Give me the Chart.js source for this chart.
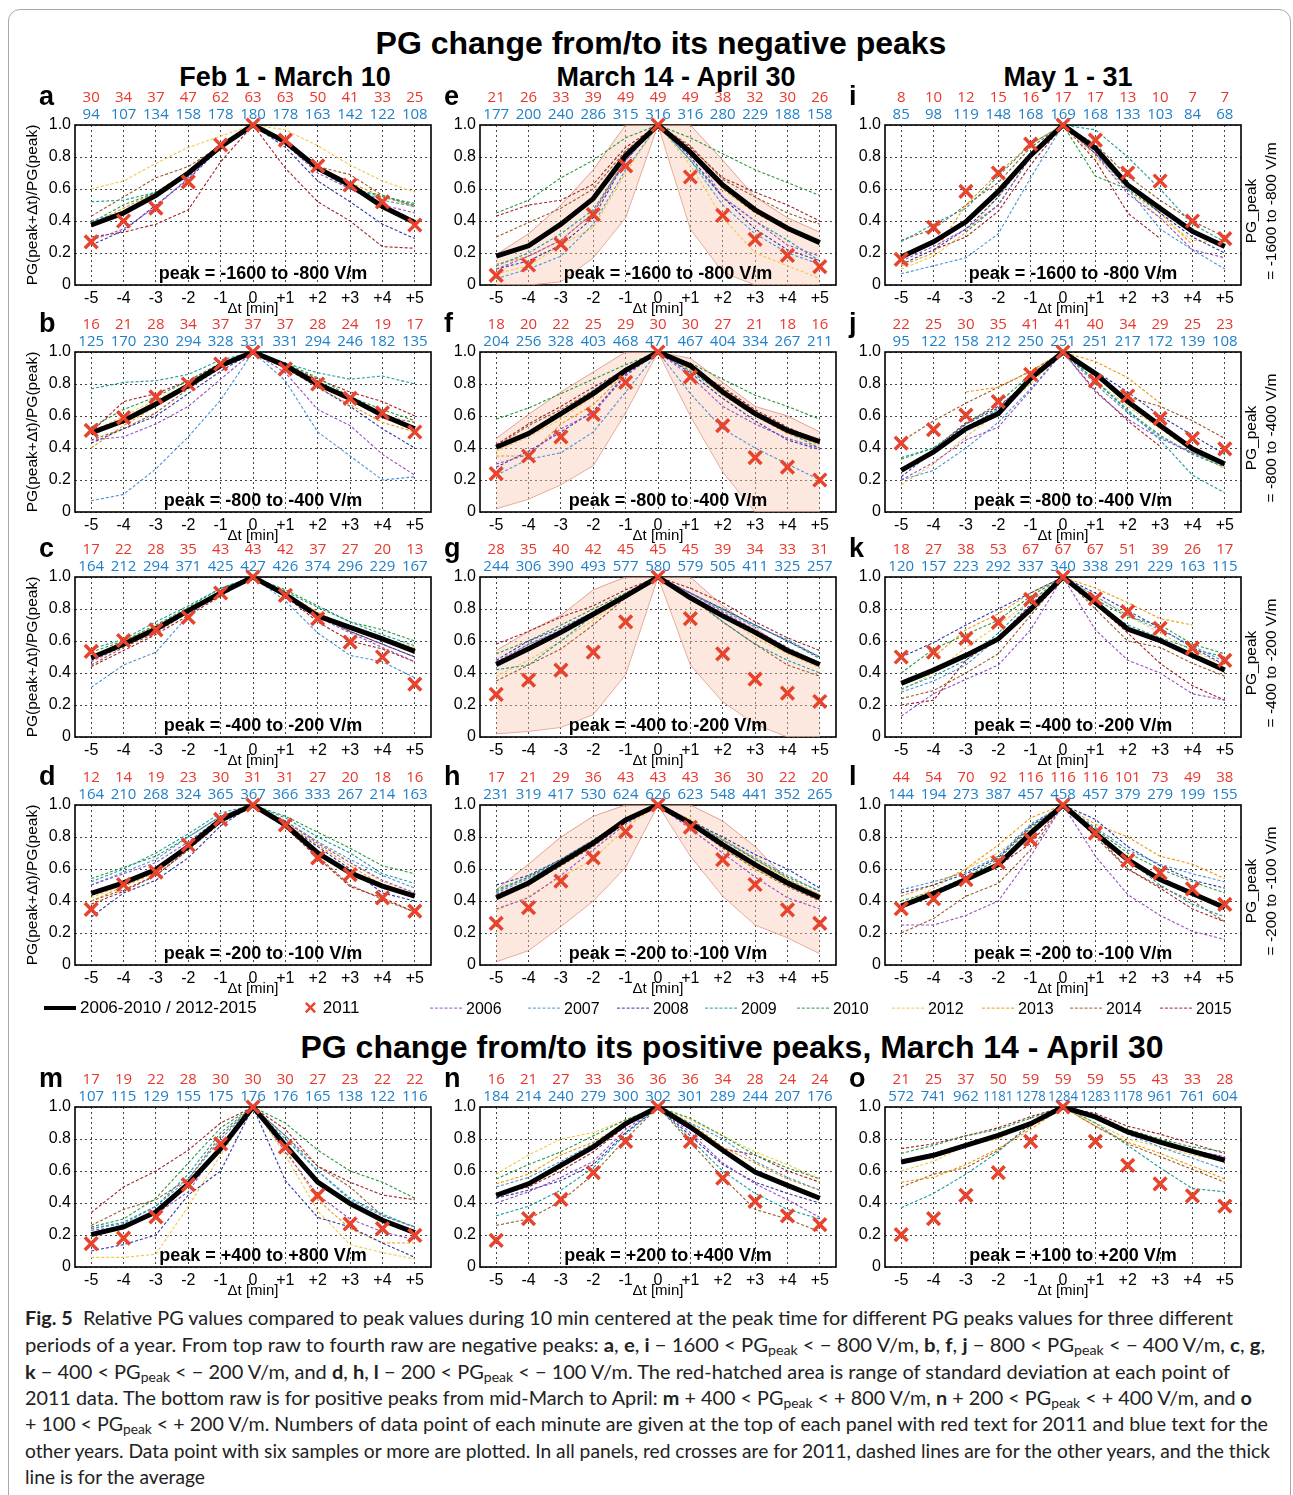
<!DOCTYPE html>
<html>
<head>
<meta charset="utf-8">
<script src="https://cdn.jsdelivr.net/npm/chart.js@4.4.1/dist/chart.umd.min.js"></script>
<style>
body { margin:0; background:#fff; width:1293px; height:1495px; position:relative; overflow:hidden; font-family:"Liberation Sans", Arial, sans-serif; }
.frame { position:absolute; left:8px; top:9px; width:1281px; height:1530px; border:1.5px solid #a8a8a8; border-radius:12px; }
.t { position:absolute; transform:translate(-50%,-50%); white-space:nowrap; font-weight:bold; color:#000; }
canvas { position:absolute; }
.leg { position:absolute; white-space:nowrap; color:#000; transform:translateY(-50%); }
.cap { position:absolute; left:25px; white-space:nowrap; font-family:Lato, "Open Sans", sans-serif; font-size:18.5px; line-height:24px; color:#222; transform-origin:0 50%; }
.cap sub { font-size:70%; vertical-align:-0.25em; line-height:0; }
</style>
</head>
<body>
<div class="frame"></div>
<div class="t" style="left:661px;top:43px;font-size:32px">PG change from/to its negative peaks</div>
<div class="t" style="left:285px;top:77px;font-size:27px">Feb 1 - March 10</div>
<div class="t" style="left:676px;top:77px;font-size:27px">March 14 - April 30</div>
<div class="t" style="left:1068px;top:77px;font-size:27px">May 1 - 31</div>
<div class="t" style="left:732px;top:1047px;font-size:32px">PG change from/to its positive peaks, March 14 - April 30</div>

<div class="cap" style="top:1306px" data-w="1208"><b>Fig. 5</b>&nbsp; Relative PG values compared to peak values during 10 min centered at the peak time for different PG peaks values for three different</div>
<div class="cap" style="top:1333px" data-w="1240">periods of a year. From top raw to fourth raw are negative peaks: <b>a</b>, <b>e</b>, <b>i</b> − 1600 &lt; PG<sub>peak</sub> &lt; − 800 V/m, <b>b</b>, <b>f</b>, <b>j</b> − 800 &lt; PG<sub>peak</sub> &lt; − 400 V/m, <b>c</b>, <b>g</b>,</div>
<div class="cap" style="top:1360px" data-w="1205"><b>k</b> − 400 &lt; PG<sub>peak</sub> &lt; − 200 V/m, and <b>d</b>, <b>h</b>, <b>l</b> − 200 &lt; PG<sub>peak</sub> &lt; − 100 V/m. The red-hatched area is range of standard deviation at each point of</div>
<div class="cap" style="top:1386px" data-w="1227">2011 data. The bottom raw is for positive peaks from mid-March to April: <b>m</b> + 400 &lt; PG<sub>peak</sub> &lt; + 800 V/m, <b>n</b> + 200 &lt; PG<sub>peak</sub> &lt; + 400 V/m, and <b>o</b></div>
<div class="cap" style="top:1412px" data-w="1243">+ 100 &lt; PG<sub>peak</sub> &lt; + 200 V/m. Numbers of data point of each minute are given at the top of each panel with red text for 2011 and blue text for the</div>
<div class="cap" style="top:1439px" data-w="1245">other years. Data point with six samples or more are plotted. In all panels, red crosses are for 2011, dashed lines are for the other years, and the thick</div>
<div class="cap" style="top:1465px" data-w="180">line is for the average</div>

<script>
// x categories and axis ticks
const xLabels = ['-5', '-4', '-3', '-2', '-1', '0', '+1', '+2', '+3', '+4', '+5'];
const yTicks = [0, 0.2, 0.4, 0.6, 0.8, 1.0];
const yTickLabels = ['0', '0.2', '0.4', '0.6', '0.8', '1.0'];
const years = ['2006', '2007', '2008', '2009', '2010', '2012', '2013', '2014', '2015'];
const yearColors = ['#9b4fc9', '#4b95d6', '#3338a8', '#1c9c9c', '#2a9a3a', '#f2c84b', '#f09a0a', '#9c5a2a', '#a3222a'];

const peakNeg = ['peak = -1600 to -800 V/m', 'peak = -800 to -400 V/m', 'peak = -400 to -200 V/m', 'peak = -200 to -100 V/m'];
const peakPos = ['peak = +400 to +800 V/m', 'peak = +200 to +400 V/m', 'peak = +100 to +200 V/m'];
const rangeLabels = ['= -1600 to -800 V/m', '= -800 to -400 V/m', '= -400 to -200 V/m', '= -200 to -100 V/m'];

// ---- a ----
const a_red = [30, 34, 37, 47, 62, 63, 63, 50, 41, 33, 25];
const a_blue = [94, 107, 134, 158, 178, 180, 178, 163, 142, 122, 108];
const a_avg = [0.375, 0.45, 0.56, 0.70, 0.865, 1, 0.895, 0.73, 0.625, 0.49, 0.39];
const a_2011 = [0.27, 0.40, 0.48, 0.645, 0.875, 1, 0.905, 0.745, 0.625, 0.52, 0.375];
const a_years = [
  [0.28, 0.35, 0.49, 0.67, 0.86, 1, 0.88, 0.70, 0.60, 0.50, 0.45],
  [0.40, 0.46, 0.56, 0.68, 0.87, 1, 0.90, 0.73, 0.61, 0.53, 0.49],
  [0.25, 0.34, 0.50, 0.66, 0.86, 1, 0.86, 0.65, 0.52, 0.38, 0.29],
  [0.52, 0.53, 0.58, 0.68, 0.88, 1, 0.90, 0.73, 0.60, 0.55, 0.51],
  [0.39, 0.50, 0.58, 0.70, 0.88, 1, 0.90, 0.72, 0.60, 0.56, 0.50],
  [0.60, 0.65, 0.76, 0.86, 0.93, 1, 0.97, 0.87, 0.75, 0.65, 0.58],
  [0.38, 0.48, 0.58, 0.71, 0.88, 1, 0.90, 0.74, 0.64, 0.55, 0.49],
  [0.43, 0.55, 0.67, 0.74, 0.87, 1, 0.90, 0.74, 0.69, 0.56, 0.49],
  [0.30, 0.33, 0.38, 0.47, 0.77, 1, 0.73, 0.52, 0.40, 0.24, 0.23]
];

// ---- e ----
const e_red = [21, 26, 33, 39, 49, 49, 49, 38, 32, 30, 26];
const e_blue = [177, 200, 240, 286, 315, 316, 316, 280, 229, 188, 158];
const e_avg = [0.18, 0.245, 0.38, 0.54, 0.81, 1, 0.83, 0.625, 0.47, 0.355, 0.265];
const e_2011 = [0.06, 0.125, 0.255, 0.44, 0.745, 1, 0.675, 0.435, 0.285, 0.185, 0.115];
const e_sdHigh = [0.19, 0.32, 0.50, 0.72, 1.0, 1.0, 1.0, 0.78, 0.55, 0.42, 0.33];
const e_sdLow = [0.0, 0.0, 0.02, 0.17, 0.42, 1.0, 0.35, 0.08, 0.0, 0.0, 0.0];
const e_years = [
  [0.10, 0.18, 0.28, 0.45, 0.78, 1, 0.85, 0.55, 0.40, 0.25, 0.18],
  [0.04, 0.10, 0.18, 0.38, 0.72, 1, 0.78, 0.50, 0.32, 0.20, 0.13],
  [0.10, 0.15, 0.25, 0.42, 0.78, 1, 0.80, 0.55, 0.35, 0.22, 0.15],
  [0.12, 0.20, 0.32, 0.47, 0.78, 1, 0.78, 0.55, 0.40, 0.28, 0.15],
  [0.45, 0.53, 0.67, 0.78, 0.92, 1, 0.92, 0.82, 0.72, 0.64, 0.56],
  [0.07, 0.12, 0.25, 0.36, 0.70, 1, 0.75, 0.42, 0.20, 0.12, 0.04],
  [0.13, 0.18, 0.28, 0.45, 0.80, 1, 0.85, 0.60, 0.45, 0.35, 0.27],
  [0.30, 0.39, 0.48, 0.60, 0.84, 1, 0.87, 0.66, 0.55, 0.45, 0.38],
  [0.43, 0.50, 0.53, 0.63, 0.86, 1, 0.86, 0.67, 0.58, 0.50, 0.40]
];

// ---- i ----
const i_red = [8, 10, 12, 15, 16, 17, 17, 13, 10, 7, 7];
const i_blue = [85, 98, 119, 148, 168, 169, 168, 133, 103, 84, 68];
const i_avg = [0.175, 0.27, 0.395, 0.585, 0.81, 1, 0.855, 0.625, 0.48, 0.335, 0.24];
const i_2011 = [0.16, 0.36, 0.585, 0.70, 0.88, 1, 0.905, 0.70, 0.65, 0.40, 0.29];
const i_years = [
  [0.15, 0.24, 0.35, 0.50, 0.80, 1, 0.82, 0.57, 0.42, 0.22, 0.17],
  [0.07, 0.12, 0.17, 0.32, 0.67, 1, 0.83, 0.60, 0.35, 0.22, 0.10],
  [0.13, 0.22, 0.35, 0.55, 0.82, 1, 0.82, 0.62, 0.45, 0.30, 0.20],
  [0.27, 0.38, 0.48, 0.68, 0.88, 1, 0.97, 0.80, 0.60, 0.38, 0.27],
  [null, null, 0.33, 0.50, 0.80, 1, 0.68, 0.60, 0.45, null, null],
  [0.10, 0.18, 0.33, 0.55, 0.80, 1, 0.80, 0.60, 0.42, 0.28, 0.26],
  [0.12, 0.20, 0.50, 0.70, 0.88, 1, 0.82, 0.62, 0.45, 0.25, null],
  [0.28, 0.35, 0.50, 0.64, 0.86, 1, 0.88, 0.68, 0.53, 0.40, 0.30],
  [null, 0.22, 0.30, 0.46, 0.75, 1, 0.78, 0.45, 0.29, null, null]
];

// ---- b ----
const b_red = [16, 21, 28, 34, 37, 37, 37, 28, 24, 19, 17];
const b_blue = [125, 170, 230, 294, 328, 331, 331, 294, 246, 182, 135];
const b_avg = [0.495, 0.57, 0.675, 0.79, 0.915, 1, 0.915, 0.80, 0.71, 0.605, 0.52];
const b_2011 = [0.51, 0.59, 0.72, 0.80, 0.925, 1, 0.895, 0.80, 0.71, 0.62, 0.50];
const b_years = [
  [0.45, 0.47, 0.55, 0.66, 0.83, 1, 0.87, 0.64, 0.54, 0.36, 0.23],
  [0.07, 0.11, 0.27, 0.47, 0.70, 1, 0.82, 0.50, 0.35, 0.20, 0.22],
  [0.43, 0.52, 0.60, 0.74, 0.88, 1, 0.90, 0.78, 0.66, 0.52, 0.40],
  [0.77, 0.81, 0.82, 0.86, 0.95, 1, 0.93, 0.87, 0.83, 0.85, 0.80],
  [0.53, 0.64, 0.72, 0.82, 0.93, 1, 0.93, 0.84, 0.72, 0.64, 0.57],
  [0.50, 0.60, 0.70, 0.80, 0.92, 1, 0.92, 0.80, 0.70, 0.60, 0.52],
  [0.40, 0.54, 0.66, 0.78, 0.90, 1, 0.90, 0.78, 0.67, 0.56, 0.50],
  [0.45, 0.52, 0.62, 0.77, 0.90, 1, 0.91, 0.82, 0.70, 0.60, 0.56],
  [0.50, 0.69, 0.74, 0.82, 0.93, 1, 0.92, 0.83, 0.75, 0.69, 0.60]
];

// ---- f ----
const f_red = [18, 20, 22, 25, 29, 30, 30, 27, 21, 18, 16];
const f_blue = [204, 256, 328, 403, 468, 471, 467, 404, 334, 267, 211];
const f_avg = [0.405, 0.49, 0.615, 0.74, 0.885, 1, 0.915, 0.75, 0.615, 0.51, 0.44];
const f_2011 = [0.24, 0.35, 0.47, 0.61, 0.81, 1, 0.845, 0.54, 0.34, 0.28, 0.20];
const f_sdHigh = [0.46, 0.61, 0.75, 0.875, 1.0, 1.0, 0.96, 0.81, 0.66, 0.60, 0.50];
const f_sdLow = [0.02, 0.08, 0.17, 0.29, 0.62, 1.0, 0.60, 0.25, 0.0, 0.0, 0.0];
const f_years = [
  [0.30, 0.36, 0.52, 0.62, 0.85, 1, 0.85, 0.66, 0.55, 0.46, 0.40],
  [0.23, 0.33, 0.37, 0.50, 0.75, 1, 0.74, 0.52, 0.40, 0.30, 0.20],
  [0.28, 0.38, 0.50, 0.63, 0.86, 1, 0.87, 0.71, 0.57, 0.45, 0.39],
  [0.40, 0.50, 0.62, 0.76, 0.90, 1, 0.88, 0.74, 0.60, 0.50, 0.40],
  [0.58, 0.65, 0.74, 0.83, 0.92, 1, 0.93, 0.83, 0.73, 0.66, 0.58],
  [0.38, 0.47, 0.58, 0.72, 0.88, 1, 0.90, 0.75, 0.61, 0.50, 0.42],
  [0.35, 0.35, 0.55, 0.67, 0.87, 1, 0.89, 0.73, 0.60, 0.49, 0.42],
  [0.41, 0.54, 0.64, 0.76, 0.88, 1, 0.90, 0.77, 0.63, 0.52, 0.43],
  [0.42, 0.55, 0.66, 0.78, 0.89, 1, 0.90, 0.78, 0.64, 0.53, 0.44]
];

// ---- j ----
const j_red = [22, 25, 30, 35, 41, 41, 40, 34, 29, 25, 23];
const j_blue = [95, 122, 158, 212, 250, 251, 251, 217, 172, 139, 108];
const j_avg = [0.26, 0.375, 0.52, 0.615, 0.835, 1, 0.865, 0.69, 0.54, 0.395, 0.30];
const j_2011 = [0.43, 0.515, 0.605, 0.69, 0.86, 1, 0.82, 0.725, 0.585, 0.46, 0.395];
const j_years = [
  [0.20, 0.31, 0.45, 0.53, 0.76, 1, 0.75, 0.58, 0.46, 0.37, 0.30],
  [0.20, 0.26, 0.40, 0.56, 0.77, 1, 0.80, 0.62, 0.47, 0.37, 0.28],
  [0.22, 0.38, 0.55, 0.65, 0.84, 1, 0.88, 0.75, 0.60, 0.48, 0.36],
  [0.34, 0.40, 0.53, 0.64, 0.84, 1, 0.82, 0.64, 0.45, 0.23, 0.12],
  [0.33, 0.40, 0.55, 0.68, 0.86, 1, 0.82, 0.63, 0.48, 0.36, 0.28],
  [0.17, 0.30, 0.47, 0.62, 0.80, 1, 0.82, 0.66, 0.52, 0.38, 0.27],
  [null, null, 0.75, 0.78, 0.88, 1, 0.94, 0.84, 0.68, null, null],
  [0.44, 0.57, 0.68, 0.78, 0.88, 1, 0.85, 0.72, 0.66, 0.57, 0.46],
  [null, 0.39, 0.56, 0.66, 0.82, 1, 0.76, 0.57, 0.41, null, null]
];

// ---- c ----
const c_red = [17, 22, 28, 35, 43, 43, 42, 37, 27, 20, 13];
const c_blue = [164, 212, 294, 371, 425, 427, 426, 374, 296, 229, 167];
const c_avg = [0.495, 0.58, 0.675, 0.79, 0.90, 1, 0.89, 0.757, 0.685, 0.613, 0.535];
const c_2011 = [0.535, 0.603, 0.67, 0.747, 0.90, 1, 0.885, 0.74, 0.593, 0.50, 0.33];
const c_years = [
  [0.47, 0.57, 0.66, 0.78, 0.90, 1, 0.88, 0.75, 0.65, 0.56, 0.47],
  [0.31, 0.45, 0.53, 0.76, 0.92, 1, 0.85, 0.65, 0.51, 0.47, 0.37],
  [0.48, 0.58, 0.67, 0.79, 0.90, 1, 0.89, 0.76, 0.66, 0.58, 0.50],
  [0.55, 0.61, 0.72, 0.82, 0.93, 1, 0.91, 0.81, 0.72, 0.64, 0.57],
  [0.53, 0.60, 0.70, 0.81, 0.93, 1, 0.92, 0.82, 0.72, 0.67, 0.60],
  [0.50, 0.60, 0.69, 0.80, 0.91, 1, 0.90, 0.78, 0.68, 0.62, 0.56],
  [0.49, 0.59, 0.68, 0.80, 0.91, 1, 0.90, 0.78, 0.68, 0.62, 0.55],
  [0.45, 0.56, 0.65, 0.78, 0.90, 1, 0.88, 0.76, 0.66, 0.58, 0.50],
  [0.44, 0.54, 0.64, 0.76, 0.88, 1, 0.88, 0.72, 0.60, 0.55, 0.47]
];

// ---- g ----
const g_red = [28, 35, 40, 42, 45, 45, 45, 39, 34, 33, 31];
const g_blue = [244, 306, 390, 493, 577, 580, 579, 505, 411, 325, 257];
const g_avg = [0.453, 0.551, 0.654, 0.767, 0.88, 1, 0.87, 0.757, 0.654, 0.541, 0.453];
const g_2011 = [0.267, 0.356, 0.418, 0.531, 0.72, 1, 0.74, 0.52, 0.362, 0.274, 0.222];
const g_sdHigh = [0.54, 0.66, 0.76, 0.92, 1.0, 1.0, 1.0, 0.82, 0.68, 0.55, 0.44];
const g_sdLow = [0.02, 0.035, 0.06, 0.14, 0.39, 1.0, 0.45, 0.22, 0.08, 0.0, 0.0];
const g_years = [
  [0.47, 0.58, 0.66, 0.77, 0.88, 1, 0.90, 0.78, 0.67, 0.56, 0.46],
  [0.45, 0.58, 0.67, 0.78, 0.89, 1, 0.90, 0.79, 0.69, 0.61, 0.50],
  [0.48, 0.60, 0.68, 0.78, 0.89, 1, 0.90, 0.80, 0.70, 0.60, 0.50],
  [0.42, 0.45, 0.60, 0.76, 0.90, 1, 0.88, 0.72, 0.58, 0.48, 0.40],
  [0.52, 0.60, 0.70, 0.80, 0.90, 1, 0.90, 0.80, 0.70, 0.60, 0.49],
  [0.38, 0.48, 0.60, 0.73, 0.88, 1, 0.88, 0.76, 0.62, 0.52, 0.43],
  [0.45, 0.55, 0.65, 0.76, 0.88, 1, 0.88, 0.77, 0.66, 0.55, 0.45],
  [0.35, 0.45, 0.55, 0.70, 0.87, 1, 0.87, 0.72, 0.58, 0.45, 0.38],
  [0.58, 0.66, 0.75, 0.82, 0.92, 1, 0.93, 0.84, 0.72, 0.62, 0.54]
];

// ---- k ----
const k_red = [18, 27, 38, 53, 67, 67, 67, 51, 39, 26, 17];
const k_blue = [120, 157, 223, 292, 337, 340, 338, 291, 229, 163, 115];
const k_avg = [0.335, 0.418, 0.51, 0.613, 0.798, 1, 0.84, 0.675, 0.603, 0.51, 0.418];
const k_2011 = [0.50, 0.53, 0.617, 0.716, 0.86, 1, 0.864, 0.784, 0.679, 0.556, 0.479];
const k_years = [
  [0.13, 0.27, 0.36, 0.45, 0.67, 1, 0.67, 0.48, 0.40, 0.27, 0.23],
  [0.28, 0.35, 0.45, 0.62, 0.82, 1, 0.88, 0.76, 0.67, 0.57, 0.47],
  [0.50, 0.59, 0.70, 0.80, 0.90, 1, 0.90, 0.79, 0.68, 0.56, 0.45],
  [0.30, 0.38, 0.48, 0.65, 0.85, 1, 0.83, 0.70, 0.62, 0.55, 0.50],
  [0.40, 0.55, 0.64, 0.73, 0.88, 1, 0.86, 0.75, 0.70, 0.58, 0.52],
  [0.29, 0.40, 0.56, 0.70, 0.85, 1, 0.88, 0.76, 0.65, 0.54, 0.45],
  [null, 0.50, 0.67, 0.77, 0.90, 1, 0.93, 0.84, 0.74, 0.70, null],
  [0.24, 0.29, 0.40, 0.52, 0.76, 1, 0.80, 0.60, 0.56, 0.46, 0.38],
  [0.20, 0.23, 0.48, 0.62, 0.83, 1, 0.83, 0.65, 0.46, 0.32, 0.23]
];

// ---- d ----
const d_red = [12, 14, 19, 23, 30, 31, 31, 27, 20, 18, 16];
const d_blue = [164, 210, 268, 324, 365, 367, 366, 333, 267, 214, 163];
const d_avg = [0.447, 0.513, 0.596, 0.741, 0.907, 1, 0.876, 0.70, 0.576, 0.493, 0.43];
const d_2011 = [0.348, 0.503, 0.58, 0.75, 0.91, 1, 0.876, 0.669, 0.565, 0.42, 0.337];
const d_years = [
  [0.50, 0.57, 0.64, 0.77, 0.92, 1, 0.90, 0.76, 0.64, 0.53, 0.45],
  [0.50, 0.58, 0.66, 0.80, 0.93, 1, 0.90, 0.77, 0.66, 0.56, 0.48],
  [0.30, 0.45, 0.53, 0.67, 0.87, 1, 0.88, 0.74, 0.60, 0.45, 0.40],
  [0.52, 0.60, 0.70, 0.82, 0.95, 1, 0.92, 0.80, 0.70, 0.57, 0.51],
  [0.54, 0.61, 0.68, 0.80, 0.93, 1, 0.93, 0.83, 0.73, 0.62, 0.57],
  [0.42, 0.50, 0.60, 0.75, 0.91, 1, 0.90, 0.77, 0.64, 0.52, 0.45],
  [0.40, 0.49, 0.58, 0.74, 0.90, 1, 0.89, 0.75, 0.62, 0.50, 0.44],
  [0.40, 0.47, 0.56, 0.72, 0.89, 1, 0.86, 0.68, 0.50, 0.41, 0.33],
  [0.38, 0.46, 0.56, 0.72, 0.89, 1, 0.86, 0.67, 0.49, 0.42, 0.33]
];

// ---- h ----
const h_red = [17, 21, 29, 36, 43, 43, 43, 36, 30, 22, 20];
const h_blue = [231, 319, 417, 530, 624, 626, 623, 548, 441, 352, 265];
const h_avg = [0.42, 0.513, 0.638, 0.762, 0.907, 1, 0.886, 0.752, 0.627, 0.513, 0.42];
const h_2011 = [0.26, 0.358, 0.524, 0.669, 0.834, 1, 0.861, 0.658, 0.503, 0.344, 0.26];
const h_sdHigh = [0.47, 0.63, 0.80, 0.93, 1.0, 1.0, 1.0, 0.90, 0.74, 0.53, 0.44];
const h_sdLow = [0.02, 0.09, 0.24, 0.40, 0.61, 1.0, 0.68, 0.43, 0.25, 0.17, 0.07];
const h_years = [
  [0.35, 0.42, 0.56, 0.72, 0.88, 1, 0.85, 0.70, 0.55, 0.42, 0.35],
  [0.45, 0.54, 0.65, 0.77, 0.90, 1, 0.90, 0.78, 0.67, 0.56, 0.46],
  [0.50, 0.56, 0.66, 0.78, 0.90, 1, 0.90, 0.80, 0.69, 0.60, 0.48],
  [0.46, 0.55, 0.65, 0.77, 0.90, 1, 0.89, 0.76, 0.64, 0.53, 0.43],
  [0.47, 0.55, 0.66, 0.78, 0.91, 1, 0.90, 0.78, 0.66, 0.55, 0.46],
  [0.34, 0.43, 0.55, 0.66, 0.86, 1, 0.88, 0.74, 0.60, 0.50, 0.41],
  [0.43, 0.52, 0.64, 0.77, 0.91, 1, 0.91, 0.79, 0.66, 0.54, 0.44],
  [0.42, 0.50, 0.62, 0.74, 0.89, 1, 0.88, 0.73, 0.60, 0.49, 0.40],
  [0.44, 0.52, 0.64, 0.76, 0.90, 1, 0.89, 0.75, 0.62, 0.50, 0.41]
];

// ---- l ----
const l_red = [44, 54, 70, 92, 116, 116, 116, 101, 73, 49, 38];
const l_blue = [144, 194, 273, 387, 457, 458, 457, 379, 279, 199, 155];
const l_avg = [0.368, 0.447, 0.534, 0.627, 0.824, 1, 0.824, 0.658, 0.534, 0.447, 0.358];
const l_2011 = [0.352, 0.414, 0.534, 0.642, 0.783, 1, 0.824, 0.654, 0.576, 0.476, 0.379];
const l_years = [
  [0.25, 0.25, 0.31, 0.40, 0.68, 1, 0.68, 0.44, 0.31, 0.21, 0.16],
  [0.47, 0.52, 0.58, 0.68, 0.88, 1, 0.86, 0.72, 0.63, 0.57, 0.52],
  [0.45, 0.50, 0.57, 0.67, 0.87, 1, 0.91, 0.74, 0.62, 0.53, 0.48],
  [0.38, 0.45, 0.54, 0.64, 0.84, 1, 0.84, 0.66, 0.50, 0.38, 0.30],
  [0.40, 0.46, 0.55, 0.66, 0.86, 1, 0.85, 0.70, 0.60, 0.52, 0.45],
  [0.38, 0.48, 0.60, 0.70, 0.85, 1, 0.84, 0.66, 0.55, 0.45, 0.38],
  [0.43, 0.50, 0.60, 0.75, 0.92, 1, 0.88, 0.80, 0.68, 0.63, 0.54],
  [0.20, 0.29, 0.43, 0.51, 0.72, 1, 0.80, 0.60, 0.49, 0.40, 0.27],
  [0.38, 0.45, 0.55, 0.62, 0.76, 1, 0.82, 0.60, 0.48, 0.35, 0.27]
];

// ---- m ----
const m_red = [17, 19, 22, 28, 30, 30, 30, 27, 23, 22, 22];
const m_blue = [107, 115, 129, 155, 175, 176, 176, 165, 138, 122, 116];
const m_avg = [0.202, 0.25, 0.344, 0.52, 0.74, 1, 0.76, 0.531, 0.396, 0.292, 0.215];
const m_2011 = [0.146, 0.18, 0.313, 0.515, 0.77, 1, 0.75, 0.448, 0.27, 0.24, 0.198];
const m_years = [
  [0.23, 0.25, 0.33, 0.47, 0.76, 1, 0.72, 0.45, 0.30, 0.22, 0.17],
  [0.24, 0.27, 0.38, 0.55, 0.80, 1, 0.82, 0.60, 0.42, 0.32, 0.25],
  [0.10, 0.14, 0.20, 0.45, 0.60, 1, 0.54, 0.31, 0.25, 0.15, 0.06],
  [0.24, 0.28, 0.38, 0.58, 0.84, 1, 0.80, 0.60, 0.43, 0.33, 0.25],
  [0.25, 0.30, 0.43, 0.65, 0.87, 1, 0.90, 0.73, 0.60, 0.53, 0.43],
  [0.06, 0.06, 0.08, 0.38, 0.70, 1, 0.70, 0.35, 0.14, 0.09, 0.05],
  [0.20, 0.24, 0.34, 0.50, 0.74, 1, 0.74, 0.42, 0.24, 0.15, 0.15],
  [0.26, 0.36, 0.42, 0.55, 0.82, 1, 0.82, 0.63, 0.50, 0.32, 0.25],
  [0.34, 0.50, 0.60, 0.73, 0.90, 1, 0.86, 0.63, 0.53, 0.45, 0.42]
];

// ---- n ----
const n_red = [16, 21, 27, 33, 36, 36, 36, 34, 28, 24, 24];
const n_blue = [184, 214, 240, 279, 300, 302, 301, 289, 244, 207, 176];
const n_avg = [0.448, 0.52, 0.635, 0.75, 0.896, 1, 0.875, 0.73, 0.594, 0.51, 0.43];
const n_2011 = [0.167, 0.302, 0.423, 0.59, 0.785, 1, 0.785, 0.556, 0.41, 0.319, 0.265];
const n_years = [
  [0.40, 0.47, 0.56, 0.66, 0.86, 1, 0.84, 0.65, 0.52, 0.42, 0.31],
  [0.50, 0.56, 0.66, 0.77, 0.90, 1, 0.90, 0.80, 0.66, 0.56, 0.48],
  [0.43, 0.48, 0.54, 0.64, 0.84, 1, 0.82, 0.64, 0.53, 0.46, 0.40],
  [0.32, 0.38, 0.48, 0.62, 0.83, 1, 0.80, 0.60, 0.46, 0.36, 0.30],
  [0.55, 0.64, 0.72, 0.82, 0.92, 1, 0.93, 0.82, 0.70, 0.62, 0.55],
  [0.58, 0.70, 0.80, 0.84, 0.92, 1, 0.92, 0.82, 0.72, 0.64, 0.55],
  [0.52, 0.58, 0.70, 0.78, 0.90, 1, 0.90, 0.75, 0.65, 0.55, 0.48],
  [0.26, 0.30, 0.41, 0.58, 0.80, 1, 0.78, 0.56, 0.36, 0.30, 0.22],
  [0.45, 0.50, 0.60, 0.72, 0.88, 1, 0.86, 0.74, 0.70, 0.60, 0.53]
];

// ---- o ----
const o_red = [21, 25, 37, 50, 59, 59, 59, 55, 43, 33, 28];
const o_blue = [572, 741, 962, 1181, 1278, 1284, 1283, 1178, 961, 761, 604];
const o_avg = [0.656, 0.698, 0.76, 0.823, 0.896, 1, 0.938, 0.844, 0.781, 0.723, 0.667];
const o_2011 = [0.202, 0.302, 0.448, 0.59, 0.785, 1, 0.785, 0.635, 0.52, 0.444, 0.381];
const o_years = [
  [0.65, 0.70, 0.76, 0.83, 0.90, 1, 0.93, 0.85, 0.78, 0.73, 0.69],
  [0.66, 0.70, 0.77, 0.83, 0.90, 1, 0.93, 0.83, 0.75, 0.68, 0.61],
  [0.66, 0.71, 0.77, 0.83, 0.90, 1, 0.93, 0.84, 0.78, 0.73, 0.67],
  [0.37, 0.46, 0.58, 0.72, 0.90, 1, 0.90, 0.76, 0.62, 0.49, 0.47],
  [0.71, 0.76, 0.82, 0.86, 0.93, 1, 0.95, 0.86, 0.80, 0.75, 0.72],
  [0.60, 0.66, 0.76, 0.80, 0.90, 1, 0.90, 0.80, 0.75, 0.70, 0.66],
  [0.53, 0.56, 0.64, 0.74, 0.86, 1, 0.88, 0.78, 0.71, 0.63, 0.55],
  [0.50, 0.58, 0.62, 0.73, 0.88, 1, 0.88, 0.77, 0.69, 0.61, 0.53],
  [0.74, 0.77, 0.82, 0.87, 0.94, 1, 0.96, 0.88, 0.83, 0.77, 0.71]
];

// layout of the panel grid (plot frames)
const colLeft = [75, 480, 885];
const rowTop = [125, 352, 577, 805, 1107];
const plotW = 356, plotH = 160;
const padL = 55, padR = 45, padT = 40, padB = 35;

const panels = [
  { letter: 'a', col: 0, row: 0, red: a_red, blue: a_blue, avg: a_avg, x2011: a_2011, yrs: a_years, peak: peakNeg[0], yTitle: true },
  { letter: 'e', col: 1, row: 0, red: e_red, blue: e_blue, avg: e_avg, x2011: e_2011, yrs: e_years, peak: peakNeg[0], hi: e_sdHigh, lo: e_sdLow },
  { letter: 'i', col: 2, row: 0, red: i_red, blue: i_blue, avg: i_avg, x2011: i_2011, yrs: i_years, peak: peakNeg[0], right: rangeLabels[0] },
  { letter: 'b', col: 0, row: 1, red: b_red, blue: b_blue, avg: b_avg, x2011: b_2011, yrs: b_years, peak: peakNeg[1], yTitle: true },
  { letter: 'f', col: 1, row: 1, red: f_red, blue: f_blue, avg: f_avg, x2011: f_2011, yrs: f_years, peak: peakNeg[1], hi: f_sdHigh, lo: f_sdLow },
  { letter: 'j', col: 2, row: 1, red: j_red, blue: j_blue, avg: j_avg, x2011: j_2011, yrs: j_years, peak: peakNeg[1], right: rangeLabels[1] },
  { letter: 'c', col: 0, row: 2, red: c_red, blue: c_blue, avg: c_avg, x2011: c_2011, yrs: c_years, peak: peakNeg[2], yTitle: true },
  { letter: 'g', col: 1, row: 2, red: g_red, blue: g_blue, avg: g_avg, x2011: g_2011, yrs: g_years, peak: peakNeg[2], hi: g_sdHigh, lo: g_sdLow },
  { letter: 'k', col: 2, row: 2, red: k_red, blue: k_blue, avg: k_avg, x2011: k_2011, yrs: k_years, peak: peakNeg[2], right: rangeLabels[2] },
  { letter: 'd', col: 0, row: 3, red: d_red, blue: d_blue, avg: d_avg, x2011: d_2011, yrs: d_years, peak: peakNeg[3], yTitle: true },
  { letter: 'h', col: 1, row: 3, red: h_red, blue: h_blue, avg: h_avg, x2011: h_2011, yrs: h_years, peak: peakNeg[3], hi: h_sdHigh, lo: h_sdLow },
  { letter: 'l', col: 2, row: 3, red: l_red, blue: l_blue, avg: l_avg, x2011: l_2011, yrs: l_years, peak: peakNeg[3], right: rangeLabels[3] },
  { letter: 'm', col: 0, row: 4, red: m_red, blue: m_blue, avg: m_avg, x2011: m_2011, yrs: m_years, peak: peakPos[0] },
  { letter: 'n', col: 1, row: 4, red: n_red, blue: n_blue, avg: n_avg, x2011: n_2011, yrs: n_years, peak: peakPos[1] },
  { letter: 'o', col: 2, row: 4, red: o_red, blue: o_blue, avg: o_avg, x2011: o_2011, yrs: o_years, peak: peakPos[2] }
];

const SANS = '"Liberation Sans", Arial, sans-serif';

// frame, counts, letters and labels drawn around each panel
const panelDecor = {
  id: 'panelDecor',
  beforeDatasetsDraw(chart) {
    const { ctx, chartArea: ca } = chart;
    ctx.save();
    ctx.strokeStyle = '#000';
    ctx.lineWidth = 1.6;
    ctx.strokeRect(ca.left, ca.top, ca.right - ca.left, ca.bottom - ca.top);
    ctx.restore();
  },
  afterDatasetsDraw(chart) {
    const p = chart.canvas._panel;
    const { ctx, chartArea: ca } = chart;
    const x = chart.scales.x;
    const cx = (ca.left + ca.right) / 2, cy = (ca.top + ca.bottom) / 2;
    ctx.save();
    ctx.textAlign = 'center';
    ctx.textBaseline = 'middle';
    ctx.font = '15px "Open Sans", sans-serif';
    // squeeze 4-digit counts so neighbours don't collide
    p.red.forEach((v, i) => {
      ctx.fillStyle = '#e8372c';
      ctx.fillText(String(v), x.getPixelForValue(i), ca.top - 27, 30);
    });
    p.blue.forEach((v, i) => {
      ctx.fillStyle = '#1f7fc8';
      ctx.fillText(String(v), x.getPixelForValue(i), ca.top - 10, 30);
    });
    ctx.fillStyle = '#000';
    ctx.font = 'bold 18px ' + SANS;
    ctx.fillText(p.peak, cx + 10, ca.bottom - 11);
    ctx.font = '15px ' + SANS;
    ctx.fillText('Δt [min]', cx, ca.bottom + 24);
    ctx.textAlign = 'left';
    ctx.textBaseline = 'alphabetic';
    ctx.font = 'bold 27px ' + SANS;
    ctx.fillText(p.letter, ca.left - 36, ca.top - 20);
    ctx.textAlign = 'center';
    ctx.textBaseline = 'middle';
    ctx.font = '15.5px ' + SANS;
    if (p.yTitle) {
      ctx.save();
      ctx.translate(ca.left - 42, cy);
      ctx.rotate(-Math.PI / 2);
      ctx.fillText('PG(peak+Δt)/PG(peak)', 0, 0);
      ctx.restore();
    }
    if (p.right) {
      ctx.save();
      ctx.translate(ca.right + 11, cy + 6);
      ctx.rotate(-Math.PI / 2);
      ctx.fillText('PG_peak', 0, 0);
      ctx.fillText(p.right, 0, 20);
      ctx.restore();
    }
    ctx.restore();
  }
};

function makePanel(p) {
  const L = colLeft[p.col], T = rowTop[p.row];
  const cv = document.createElement('canvas');
  cv.width = plotW + padL + padR;
  cv.height = plotH + padT + padB;
  cv.style.left = (L - padL) + 'px';
  cv.style.top = (T - padT) + 'px';
  cv.style.width = cv.width + 'px';
  cv.style.height = cv.height + 'px';
  cv._panel = p;
  document.body.appendChild(cv);

  const datasets = [];
  datasets.push({
    label: '2011', data: p.x2011, showLine: false, clip: false,
    pointStyle: 'crossRot', pointRadius: 9, pointBorderWidth: 3.5,
    pointBorderColor: '#e8432d', borderColor: '#e8432d'
  });
  datasets.push({ label: 'average', data: p.avg, borderColor: '#000', borderWidth: 5, pointRadius: 0 });
  p.yrs.forEach((d, i) => {
    datasets.push({
      label: years[i], data: d, borderColor: yearColors[i], borderWidth: 1.1,
      borderDash: [3, 2], pointRadius: 0, spanGaps: false
    });
  });
  if (p.hi) {
    datasets.push({
      label: 'sd+', data: p.hi, borderColor: '#dc8c7a', borderWidth: 0.8, pointRadius: 0,
      fill: '+1', backgroundColor: 'rgba(248,200,178,0.42)'
    });
    datasets.push({ label: 'sd-', data: p.lo, borderColor: '#dc8c7a', borderWidth: 0.8, pointRadius: 0, fill: false });
  }

  new Chart(cv, {
    type: 'line',
    data: { labels: xLabels, datasets: datasets },
    options: {
      responsive: false,
      animation: false,
      devicePixelRatio: 1,
      layout: { padding: { left: 0, right: padR, top: padT, bottom: 0 } },
      elements: { line: { tension: 0 } },
      plugins: { legend: { display: false }, tooltip: { enabled: false } },
      scales: {
        x: {
          type: 'category',
          offset: true,
          grid: { offset: false, color: '#444', lineWidth: 1, drawTicks: false },
          border: { display: false, dash: [2, 3] },
          ticks: { color: '#000', font: { family: SANS, size: 16 }, padding: 4, maxRotation: 0, autoSkip: false },
          afterFit: s => { s.height = padB; }
        },
        y: {
          min: 0, max: 1,
          afterBuildTicks: s => { s.ticks = yTicks.map(v => ({ value: v })); },
          grid: { color: '#444', lineWidth: 1, drawTicks: false },
          border: { display: false, dash: [2, 3] },
          ticks: { color: '#000', font: { family: SANS, size: 16 }, padding: 4, callback: (v, i) => yTickLabels[i] },
          afterFit: s => { s.width = padL; }
        }
      }
    },
    plugins: [panelDecor]
  });
}

panels.forEach(makePanel);

// legend row
const legendX = [430, 528, 617, 705, 797, 892, 982, 1070, 1160];
function legItem(html, left) {
  const d = document.createElement('div');
  d.className = 'leg';
  d.style.left = left + 'px';
  d.style.top = '1008px';
  d.innerHTML = html;
  document.body.appendChild(d);
}
legItem('<span style="display:inline-block;width:32px;border-top:4px solid #000;vertical-align:middle"></span><span style="font-size:17px;margin-left:4px;vertical-align:middle">2006-2010 / 2012-2015</span>', 44);
legItem('<span style="color:#e8432d;font-weight:bold;font-size:22px;vertical-align:middle">×</span><span style="font-size:17px;margin-left:6px;vertical-align:middle">2011</span>', 304);
years.forEach((y, i) => {
  legItem('<span style="display:inline-block;width:32px;border-top:1.5px dashed ' + yearColors[i] + ';vertical-align:middle"></span><span style="font-size:16px;margin-left:4px;vertical-align:middle">' + y + '</span>', legendX[i]);
});

// fit caption lines to the widths seen in the figure
document.querySelectorAll('.cap').forEach(el => {
  const w = el.getBoundingClientRect().width;
  el.style.transform = 'scaleX(' + (+el.dataset.w / w) + ')';
});
</script>
</body>
</html>
